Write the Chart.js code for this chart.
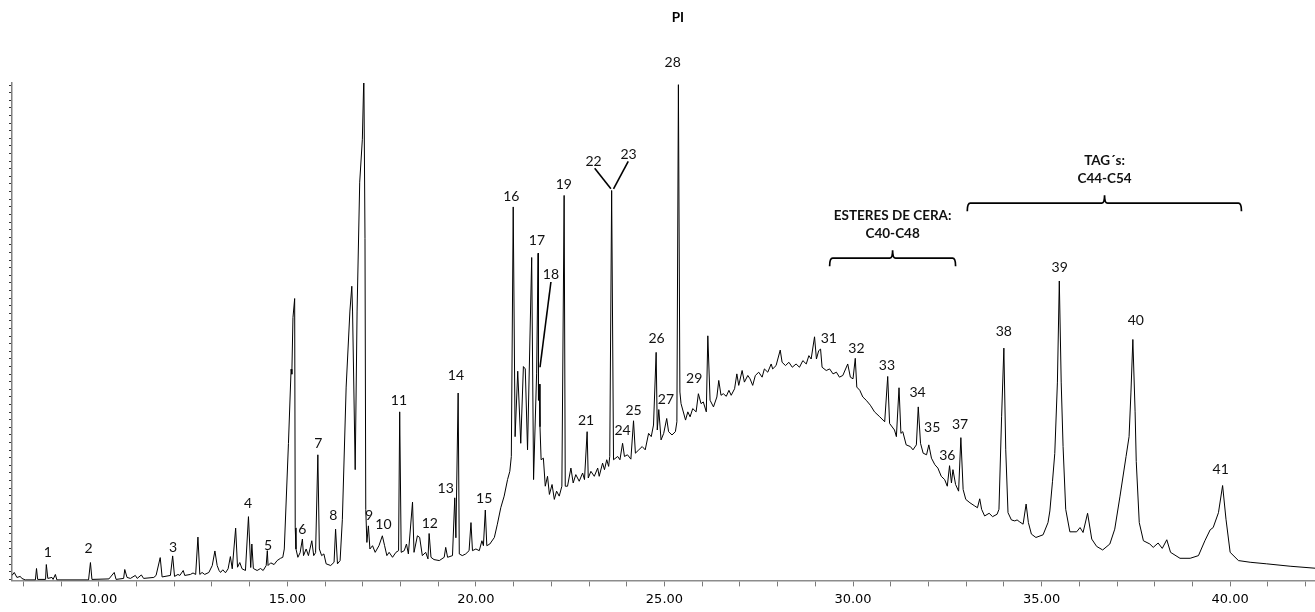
<!DOCTYPE html>
<html>
<head>
<meta charset="utf-8">
<script src="https://cdn.jsdelivr.net/npm/chart.js@4.4.1/dist/chart.umd.min.js"></script>
<style>
html,body{margin:0;padding:0;background:#ffffff;}
#wrap{width:1315px;height:612px;position:relative;}
</style>
</head>
<body>
<div id="wrap"><canvas id="c" width="1315" height="612"></canvas></div>
<script>
// Retention time (min) and abundance (arbitrary units)
const retentionTimes = [
  7.70,7.76,7.83,7.92,7.96,8.05,8.32,8.35,8.38,8.59,
  8.61,8.65,8.76,8.79,8.85,8.89,9.73,9.78,9.82,10.27,
  10.41,10.46,10.66,10.69,10.75,10.84,10.97,11.02,11.13,11.19,
  11.46,11.52,11.63,11.68,11.90,11.96,12.01,12.10,12.15,12.24,
  12.28,12.43,12.50,12.57,12.63,12.68,12.74,12.81,12.92,13.01,
  13.08,13.14,13.19,13.23,13.29,13.36,13.43,13.49,13.54,13.63,
  13.68,13.74,13.80,13.89,13.97,14.03,14.06,14.10,14.20,14.29,
  14.36,14.44,14.47,14.49,14.56,14.65,14.73,14.82,14.88,14.92,
  15.03,15.10,15.12,15.15,15.195,15.21,15.23,15.28,15.34,15.40,
  15.43,15.50,15.56,15.65,15.70,15.75,15.81,15.85,15.91,15.97,
  16.03,16.15,16.24,16.28,16.33,16.40,16.46,16.56,16.66,16.71,
  16.73,16.80,16.85,16.92,16.99,17.03,17.06,17.08,17.11,17.15,
  17.19,17.26,17.33,17.43,17.52,17.58,17.64,17.70,17.79,17.88,
  17.95,17.98,18.02,18.10,18.16,18.21,18.32,18.36,18.45,18.51,
  18.58,18.67,18.73,18.76,18.81,18.89,19.03,19.16,19.20,19.25,
  19.38,19.44,19.47,19.53,19.56,19.64,19.73,19.82,19.87,19.91,
  20.00,20.09,20.16,20.20,20.25,20.29,20.37,20.49,20.57,20.66,
  20.75,20.84,20.90,20.94,20.99,21.04,21.11,21.19,21.26,21.31,
  21.37,21.48,21.53,21.61,21.65,21.66,21.68,21.70,21.73,21.79,
  21.84,21.90,21.95,22.02,22.08,22.14,22.21,22.28,22.34,22.37,
  22.43,22.52,22.58,22.65,22.74,22.83,22.88,22.95,22.98,23.05,
  23.14,23.23,23.27,23.36,23.41,23.47,23.52,23.55,23.60,23.65,
  23.76,23.82,23.89,23.94,24.02,24.11,24.18,24.23,24.32,24.41,
  24.49,24.58,24.65,24.71,24.78,24.81,24.85,24.91,24.98,25.06,
  25.11,25.20,25.29,25.33,25.37,25.41,25.44,25.56,25.62,25.68,
  25.75,25.84,25.90,25.97,26.03,26.11,26.15,26.21,26.30,26.39,
  26.44,26.50,26.56,26.64,26.71,26.77,26.86,26.92,26.97,27.06,
  27.12,27.21,27.27,27.34,27.41,27.50,27.59,27.65,27.74,27.83,
  27.87,27.96,28.07,28.12,28.21,28.30,28.39,28.49,28.58,28.67,
  28.76,28.83,28.89,28.98,29.03,29.09,29.14,29.18,29.29,29.38,
  29.47,29.56,29.64,29.73,29.86,29.93,30.00,30.06,30.10,30.18,
  30.26,30.35,30.46,30.57,30.71,30.84,30.92,30.97,31.10,31.15,
  31.22,31.27,31.32,31.41,31.52,31.59,31.68,31.73,31.79,31.86,
  31.95,32.01,32.08,32.17,32.25,32.34,32.43,32.50,32.56,32.61,
  32.65,32.72,32.80,32.86,32.92,32.99,33.10,33.23,33.30,33.36,
  33.41,33.49,33.61,33.70,33.82,33.87,33.94,34.00,34.05,34.11,
  34.20,34.29,34.35,34.42,34.51,34.59,34.65,34.73,34.85,35.04,
  35.17,35.22,35.29,35.35,35.42,35.47,35.52,35.57,35.64,35.75,
  35.93,36.02,36.10,36.22,36.33,36.46,36.62,36.81,36.94,37.08,
  37.24,37.32,37.37,37.42,37.48,37.51,37.59,37.70,37.87,37.96,
  38.09,38.20,38.32,38.42,38.67,38.94,39.16,39.33,39.47,39.55,
  39.69,39.80,39.89,40.00,40.22,40.53,40.97,41.59,42.25
];
const abundance = [
  5,8,3,4,2,0.5,0.5,12,1,1,
  16,2,3,1,6,0.5,0.5,18,1,1.5,
  8,1,2,11,3,2,5,2,5.5,2,
  3,5,23,3.5,5,24.7,4,6,5,10,
  5,6,7.5,6,43.7,6,8,6,8,15,
  29.7,15,10,8,10.7,7.7,11.7,24,11.7,52.7,
  13.3,18,11.7,10,64.3,13,36.7,12,10,12,
  10,15,30,15,17.7,16,20,22.3,23.3,31.7,
  138,213,208,265,284.3,53,31.7,23.3,28,41.7,
  25,31.7,25,40,25,28,126.7,31.7,25,26.7,
  16.7,15,18.3,51.7,16.7,20,61.7,195,271.7,296.7,
  271.7,111.7,271.7,401.7,445,510,345,71.7,38.3,55,
  31.7,35,28.3,35,45,35,25,28.3,23.3,28.3,
  30,170,28.3,30,36.7,26.7,79,28.3,45,43.3,
  25,28.3,21.7,47.3,23.3,21,20,23.3,33.3,23.3,
  25,83.3,43,189,26.7,25,26.7,30,58.3,30,
  31.7,30,40,35,71,35,36.7,43.3,56.7,73.3,
  85,101.7,110,125,376.7,145,211,138.3,215.7,213.3,
  131.7,325.7,101.7,208.3,330,181.7,198,155,121.7,123.3,
  95,105,86.7,96.7,81.7,90,85,95,388.3,95,
  95,113.3,98.3,106.7,100,108.3,101.7,150,103.3,110,
  105,113.3,105,118.3,111.7,121.7,115,125,393.3,121.7,
  125,121.7,138.3,125,126.7,122.3,161,128.3,131.7,135,
  131.7,148.3,145,156.7,230,151.7,172.3,141.7,148.3,163.3,
  150,146.7,150,160,500,190,178.3,161.7,170,165,
  173.3,170,188.3,178.3,180,170,246.7,181.7,175,185,
  201.7,186.7,188.3,185.7,191.7,186.7,193.3,208.3,196.7,211.7,
  200,206.7,203.3,196.7,206.7,210,205,213.3,210,218.3,
  213.3,216.7,232.3,220,216.7,220,215,218.3,215,221.7,
  218.3,226.7,223.3,245.7,223.3,231.7,233.3,215,211.7,213.3,
  208.3,210,205,206.7,218.3,205,203.3,224,195,191.7,
  185,181.7,176.7,170,165,160,205.7,158.3,151.7,145,
  194.3,148.3,150,136.7,135,131.7,136.7,175,138.3,128.3,
  126.7,136.7,123.3,116.7,113.3,105,101.7,95,115.7,98.3,
  111.7,96.7,90,144,91.7,81.7,78.3,75,73.3,82.3,
  71.7,65,67.7,64.3,66.7,71.7,165,234.3,131.7,68.3,
  61,60,61,59,56.7,77,58.3,46.7,43.3,46,
  58.3,70,100,128,200,302,200,135,71.7,49,
  49,53.3,48.3,67.7,41.7,34.3,30.7,36.7,51.7,85,
  125,145,190,243,170,120,58.3,40,36.7,33.3,
  37.7,32.3,41,28.3,22.3,22.3,25,40,51,53.3,
  68.3,95.7,61.7,28.3,20,18.3,16.7,14.3,12.3
];

// x-axis labelled minutes
const xTickLabels = [10, 15, 20, 25, 30, 35, 40];

// Peak numbers and where their labels sit (minutes, abundance units)
const peakNumbers = ['1','2','3','4','5','6','7','8','9','10','11','12','13','14','15','16','17','18','19','21','22','23','24','25','26','27','28','29','31','32','33','34','35','36','37','38','39','40','41'];
const peakLabelTimes = [8.65,9.73,11.97,13.96,14.49,15.40,15.82,16.22,17.17,17.55,17.96,18.78,19.20,19.47,20.22,20.94,21.62,21.99,22.33,22.92,23.12,24.05,23.89,24.18,24.79,25.04,25.22,25.79,29.36,30.09,30.90,31.71,32.10,32.50,32.84,34.00,35.48,37.50,39.75];
const peakLabelLevels = [28.3,32.3,33.3,77.7,35,51.7,138.3,65,65.7,56.7,181.7,57.7,92.7,206.7,82.3,387.7,342.7,308.3,399.7,161,422.7,429.7,151,171.7,244.3,182.7,522.7,203.3,244,234,216.7,189.3,154,125.7,157.3,251,316,262,112.3];

// Leader lines: [t1, v1, t2, v2]
const leaderLines = [
  [21.99, 301, 21.70, 215],
  [23.15, 415.7, 23.58, 395],
  [24.04, 422.7, 23.65, 395]
];

// Group brackets
const groupNames = [['ESTERES DE CERA:', 'C40-C48'], ['TAG\u00b4s:', 'C44-C54']];
const groupStart = [29.38, 33.03];
const groupEnd = [32.72, 40.30];
const groupCenter = [31.05, 36.67];
const groupLevel = [325, 380.5];

const chartTitle = 'PI';

const points = retentionTimes.map((t, i) => ({x: t, y: abundance[i]}));

const annotPlugin = {
  id: 'annot',
  afterDraw(chart) {
    const {ctx, scales} = chart;
    const x = scales.x, y = scales.y;
    ctx.save();
    // title
    ctx.fillStyle = '#000';
    ctx.textAlign = 'center';
    ctx.textBaseline = 'middle';
    ctx.font = 'bold 13.5px Lato';
    ctx.fillText(chartTitle, chart.chartArea.left + chart.chartArea.width * 0.511, 18);
    // peak labels
    ctx.font = '14px Lato';
    ctx.fillStyle = '#111';
    peakNumbers.forEach((s, i) => {
      ctx.fillText(s, x.getPixelForValue(peakLabelTimes[i]), y.getPixelForValue(peakLabelLevels[i]));
    });
    // leader lines
    ctx.strokeStyle = '#000';
    ctx.lineWidth = 1.6;
    leaderLines.forEach(l => {
      ctx.beginPath();
      ctx.moveTo(x.getPixelForValue(l[0]), y.getPixelForValue(l[1]));
      ctx.lineTo(x.getPixelForValue(l[2]), y.getPixelForValue(l[3]));
      ctx.stroke();
    });
    // brackets
    groupNames.forEach((names, i) => {
      const xl = x.getPixelForValue(groupStart[i]);
      const xr = x.getPixelForValue(groupEnd[i]);
      const xm = x.getPixelForValue(groupCenter[i]);
      const yh = y.getPixelForValue(groupLevel[i]);
      const yEnd = yh + 8, yNub = yh - 8, r = 3;
      ctx.beginPath();
      ctx.moveTo(xl, yEnd);
      ctx.quadraticCurveTo(xl, yh, xl + r, yh);
      ctx.lineTo(xm - r, yh);
      ctx.quadraticCurveTo(xm, yh, xm, yNub);
      ctx.quadraticCurveTo(xm, yh, xm + r, yh);
      ctx.lineTo(xr - r, yh);
      ctx.quadraticCurveTo(xr, yh, xr, yEnd);
      ctx.lineWidth = 1.7;
      ctx.stroke();
      ctx.font = 'bold 13.5px Lato';
      ctx.fillStyle = '#111';
      ctx.fillText(names[0], xm, yh - 43);
      ctx.fillText(names[1], xm, yh - 25);
    });
    ctx.restore();
  }
};

new Chart(document.getElementById('c'), {
  type: 'line',
  data: {
    datasets: [{
      data: points,
      borderColor: '#000',
      borderWidth: 1,
      pointRadius: 0,
      tension: 0,
      fill: false
    }]
  },
  options: {
    responsive: false,
    animation: false,
    layout: {padding: {top: 83, left: 9, right: 0, bottom: 0}},
    plugins: {legend: {display: false}, tooltip: {enabled: false}, title: {display: false}},
    scales: {
      x: {
        type: 'linear',
        min: 7.70,
        max: 42.25,
        border: {color: '#8c8c8c', width: 1.5},
        grid: {drawOnChartArea: false, drawTicks: true, tickLength: 6, color: '#7a7a7a'},
        ticks: {
          stepSize: 1,
          autoSkip: false,
          maxRotation: 0,
          includeBounds: false,
          padding: 5,
          color: '#000',
          font: {family: 'DejaVu Sans', size: 13},
          callback: (v) => xTickLabels.includes(Math.round(v)) && Math.abs(v - Math.round(v)) < 1e-6 ? v.toFixed(2) : ''
        }
      },
      y: {
        type: 'linear',
        min: 0,
        max: 501.7,
        border: {color: '#808080', width: 1.5},
        grid: {drawOnChartArea: false, drawTicks: true, tickLength: 3, color: '#333'},
        ticks: {display: false},
        afterBuildTicks: (scale) => {
          const step = 7.67;
          const t = [];
          for (let v = 1.0; v <= 501.7; v += step) t.push({value: v});
          scale.ticks = t;
        }
      }
    }
  },
  plugins: [annotPlugin]
});
</script>
</body>
</html>
